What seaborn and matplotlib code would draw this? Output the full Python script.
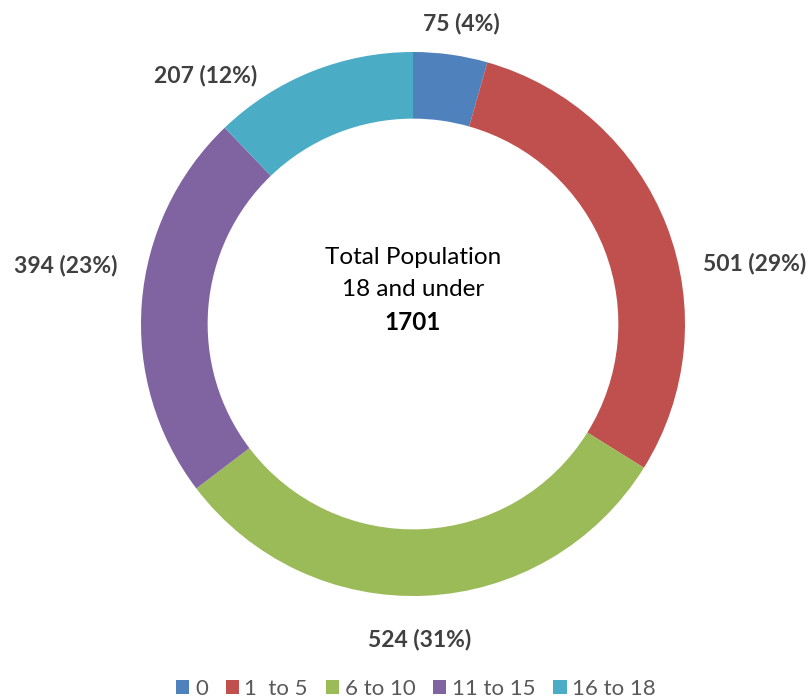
import matplotlib
matplotlib.use("Agg")
import matplotlib.pyplot as plt
import seaborn as sns

# data
age_groups = ["0", "1  to 5", "6 to 10", "11 to 15", "16 to 18"]
counts = [75, 501, 524, 394, 207]
colors = ["#4F81BD", "#C0504D", "#9BBB59", "#8064A2", "#4BACC6"]

# where the data labels sit (pixel coords, y from top), Excel-style placement
label_pos = [(461, 24), (755, 264), (420, 639), (66, 266), (206, 75)]

sns.set_theme(style="white")
plt.rcParams["font.family"] = ["Lato", "DejaVu Sans"]

W, H = 811, 700
fig = plt.figure(figsize=(W / 100, H / 100), dpi=100)
ax = fig.add_axes([0, 0, 1, 1])

cx, cy, r = 413, H - 324, 272
wedges, _ = ax.pie(counts, colors=colors, startangle=90, counterclock=False,
                   radius=r, center=(cx, cy), frame=True,
                   wedgeprops=dict(width=r * 0.245, edgecolor="none"))
ax.set_xlim(0, W)
ax.set_ylim(0, H)
ax.set_aspect("equal")
ax.axis("off")

total = sum(counts)
for v, (x, y) in zip(counts, label_pos):
    ax.text(x, H - y, f"{v} ({v / total:.0%})", ha="center", va="center",
            fontsize=16.5, fontweight="bold", color="#404040")

ax.text(cx, H - 257, "Total Population", ha="center", va="center", fontsize=17.5, color="black")
ax.text(cx, H - 290, "18 and under", ha="center", va="center", fontsize=17.5, color="black")
ax.text(cx, H - 322, str(total), ha="center", va="center", fontsize=17.5,
        fontweight="bold", color="black")

leg = ax.legend(wedges, age_groups, loc="center", bbox_to_anchor=(416 / W, 1 - 689 / H),
                ncol=5, frameon=False, fontsize=16, handlelength=0.6,
                handleheight=0.6, handletextpad=0.25, columnspacing=0.8,
                borderpad=0.1)
for t in leg.get_texts():
    t.set_color("#595959")

fig.savefig("out.png", dpi=100)
